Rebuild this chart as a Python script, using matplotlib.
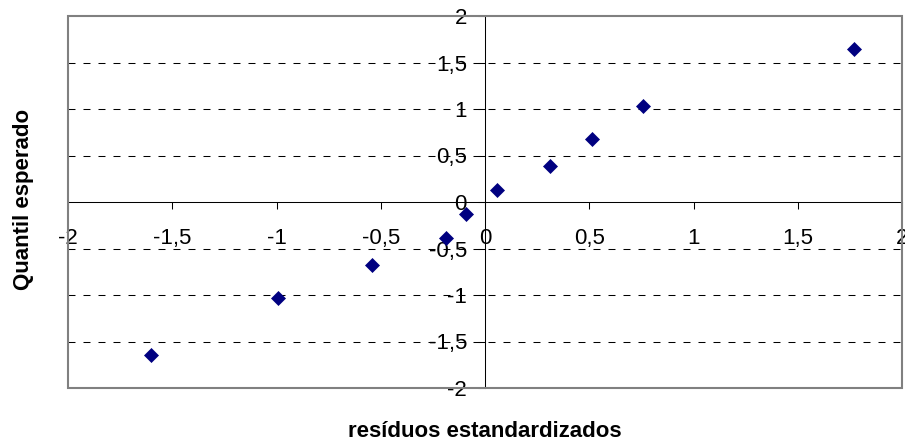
import matplotlib
matplotlib.use("Agg")
import matplotlib.pyplot as plt
from matplotlib.patches import Rectangle

# Data
residuos = [-1.604, -0.994, -0.542, -0.187, -0.090, 0.058, 0.312, 0.511, 0.758, 1.772]
quantil = [-1.645, -1.036, -0.674, -0.385, -0.126, 0.126, 0.385, 0.674, 1.036, 1.645]

x_ticks = [-2, -1.5, -1, -0.5, 0, 0.5, 1, 1.5, 2]
x_tick_labels = ["-2", "-1,5", "-1", "-0,5", "0", "0,5", "1", "1,5", "2"]
y_ticks = [-2, -1.5, -1, -0.5, 0, 0.5, 1, 1.5, 2]
y_tick_labels = ["-2", "-1,5", "-1", "-0,5", "0", "0,5", "1", "1,5", "2"]
grid_levels = [-1.5, -1, -0.5, 0.5, 1, 1.5]

x_label = "resíduos estandardizados"
y_label = "Quantil esperado"

plt.rcParams['font.family'] = ['Liberation Sans', 'DejaVu Sans']

W, H = 905, 442
fig = plt.figure(figsize=(W / 100, H / 100), dpi=100)
fig.patch.set_facecolor('white')

ax = fig.add_axes([68 / W, 1 - 388 / H, 834 / W, 372 / H])
ax.set_xlim(-2, 2)
ax.set_ylim(-2, 2)

# grid lines
for g in grid_levels:
    ax.axhline(g, color='black', lw=0.75, linestyle=(0, (6.7, 7.7)), zorder=1)

# axes crossing at zero
for side in ['top', 'right']:
    ax.spines[side].set_visible(False)
ax.spines['left'].set_position(('data', 0))
ax.spines['bottom'].set_position(('data', 0))
for side in ['left', 'bottom']:
    ax.spines[side].set_color('black')
    ax.spines[side].set_linewidth(0.75)
    ax.spines[side].set_zorder(2)

# plot area border
ax.add_patch(Rectangle((0, 0), 1, 1, transform=ax.transAxes, fill=False,
                       edgecolor='#808080', lw=1.5, clip_on=False, zorder=3))

ax.set_xticks(x_ticks)
ax.set_xticklabels(x_tick_labels)
ax.set_yticks(y_ticks)
ax.set_yticklabels(y_tick_labels)
ax.tick_params(axis='x', direction='out', length=5, width=0.75, color='black',
               labelsize=16, pad=13.5)
ax.tick_params(axis='y', direction='out', length=5, width=0.75, color='black',
               labelsize=16, pad=8)

ax.plot(residuos, quantil, linestyle='none', marker='D', markersize=7.5,
        color='#000080', markeredgecolor='#000080', markeredgewidth=0.5,
        zorder=5, clip_on=False)

fig.text(485 / W, 1 - 437 / H, x_label, ha='center', va='baseline',
         fontsize=16, fontweight='bold')
fig.text(24 / W, 1 - 199 / H, y_label, ha='center', va='center',
         rotation=90, fontsize=16, fontweight='bold')

fig.savefig('out.png', dpi=100, facecolor='white')
